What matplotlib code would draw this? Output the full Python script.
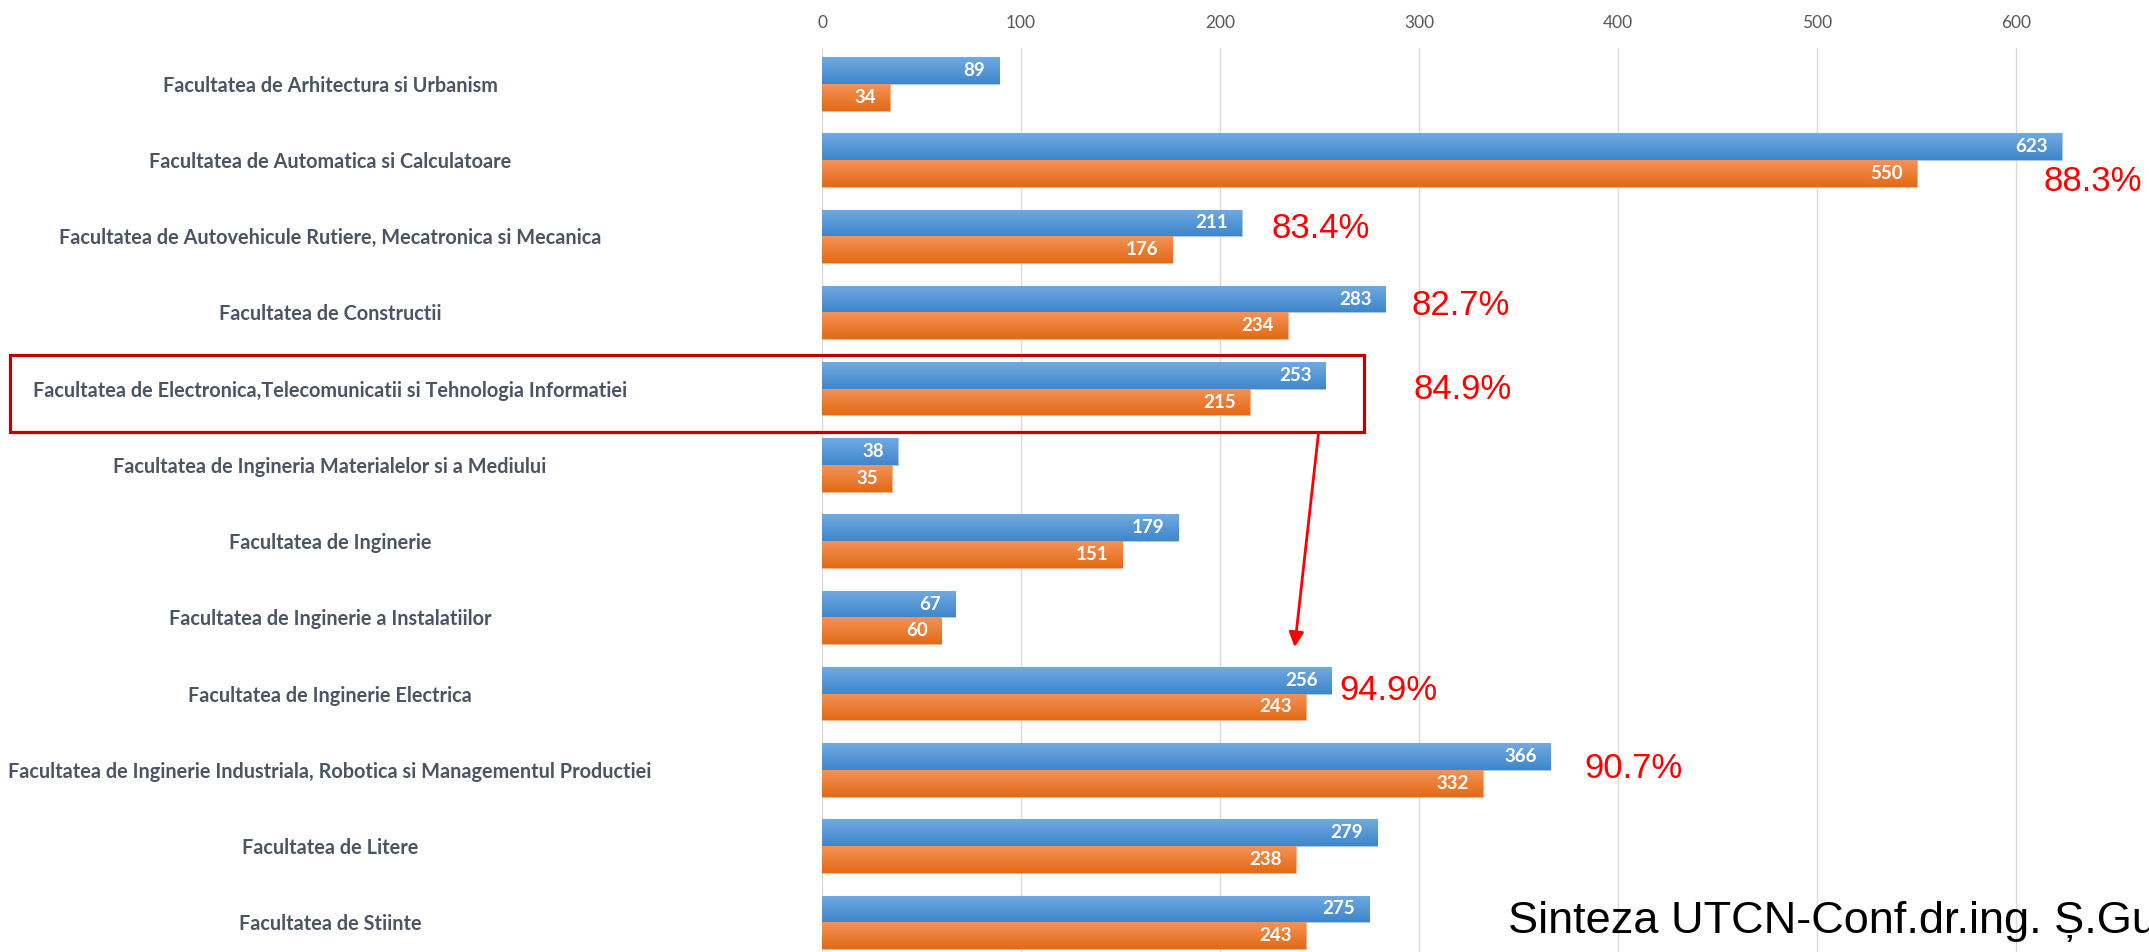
import numpy as np
import matplotlib
matplotlib.use('Agg')
import matplotlib.pyplot as plt
from matplotlib.colors import LinearSegmentedColormap
from matplotlib.patches import Rectangle

categories = [
    "Facultatea de Arhitectura si Urbanism",
    "Facultatea de Automatica si Calculatoare",
    "Facultatea de Autovehicule Rutiere, Mecatronica si Mecanica",
    "Facultatea de Constructii",
    "Facultatea de Electronica,Telecomunicatii si Tehnologia Informatiei",
    "Facultatea de Ingineria Materialelor si a Mediului",
    "Facultatea de Inginerie",
    "Facultatea de Inginerie a Instalatiilor",
    "Facultatea de Inginerie Electrica",
    "Facultatea de Inginerie Industriala, Robotica si Managementul Productiei",
    "Facultatea de Litere",
    "Facultatea de Stiinte",
]
series_blue = [89, 623, 211, 283, 253, 38, 179, 67, 256, 366, 279, 275]
series_orange = [34, 550, 176, 234, 215, 35, 151, 60, 243, 332, 238, 243]
x_ticks = [0, 100, 200, 300, 400, 500, 600]

pct_labels = ["88.3%", "83.4%", "82.7%", "84.9%", "94.9%", "90.7%"]
pct_cats = [1, 2, 3, 4, 8, 9]
# layout of the hand-placed percentage notes (data units)
pct_x = [614, 226, 296, 297, 260, 383]
pct_dy = [0.28, -0.10, -0.09, 0.01, -0.04, -0.02]

W, H = 2149, 952
fig = plt.figure(figsize=(W / 100, H / 100), dpi=100)
ax_left = 822 / W
ax_top = 48 / H
ax = fig.add_axes([ax_left, 0, 1 - ax_left, 1 - ax_top])

y = np.arange(len(categories))
h = 0.35
blue_bars = ax.barh(y - h / 2, series_blue, height=h, color="#5B9BD5",
                    edgecolor="#A9C8EA", linewidth=0.8, zorder=2)
orange_bars = ax.barh(y + h / 2, series_orange, height=h, color="#ED7D31",
                      edgecolor="#F5B58A", linewidth=0.8, zorder=2)

# gradients on bars
cm_blue = LinearSegmentedColormap.from_list("b", ["#70AAE2", "#3F86CB"])
cm_orange = LinearSegmentedColormap.from_list("o", ["#F49257", "#E36A16"])
grad = np.linspace(0, 1, 64).reshape(-1, 1)
for bars, cm in ((blue_bars, cm_blue), (orange_bars, cm_orange)):
    for p in bars.patches:
        x0, y0 = p.get_x(), p.get_y()
        w, hh = p.get_width(), p.get_height()
        im = ax.imshow(grad, cmap=cm, aspect="auto",
                       extent=(x0, x0 + w, y0 + hh, y0), origin="upper",
                       zorder=2.5, interpolation="bilinear")
        im.set_clip_path(p)
ax.set_xlim(0, (W - 822) / 1.99)
ax.set_ylim(11.39, -0.47)

# value labels
for bars, vals in ((blue_bars, series_blue), (orange_bars, series_orange)):
    for p, v in zip(bars.patches, vals):
        ax.annotate(str(v), xy=(p.get_width(), p.get_y() + p.get_height() / 2),
                    xytext=(-10, 0), textcoords="offset points",
                    ha="right", va="center", color="white",
                    fontsize=13.5, fontweight="bold", family="Lato", zorder=4)

# axes styling
for s in ax.spines.values():
    s.set_visible(False)
ax.set_xticks(x_ticks)
ax.xaxis.tick_top()
ax.tick_params(axis="x", length=0, pad=12, labelsize=12.5, labelcolor="#595959")
for t in ax.get_xticklabels():
    t.set_family("Lato")
ax.grid(axis="x", color="#D9D9D9", linewidth=1, zorder=0)
ax.set_axisbelow(True)

ax.set_yticks(y)
ax.set_yticklabels(categories, ha="center", family="Lato", fontweight="bold",
                   fontsize=14.3, color="#4A5464")
ax.tick_params(axis="y", length=0, pad=(822 - 330) * 0.72)

# percentage notes
for lab, c, px, dy in zip(pct_labels, pct_cats, pct_x, pct_dy):
    ax.text(px, c + dy, lab, color="#FF0000", fontsize=25, family="Liberation Sans",
            ha="left", va="center", clip_on=False, zorder=5)

# highlight box around Electronica row
fig.patches.append(Rectangle((10 / W, 1 - 432 / H), 1354 / W, 77 / H,
                             transform=fig.transFigure, fill=False,
                             edgecolor="#C00000", linewidth=2.3, zorder=6))

# arrow
ax.annotate("", xy=(237.5, 7.39), xytext=(249.5, 4.58),
            arrowprops=dict(arrowstyle="-|>", color="#FF0000", lw=2.0,
                            mutation_scale=22, shrinkA=0, shrinkB=0),
            annotation_clip=False, zorder=6)

# footer text (cut at the right edge, as in the reference)
fig.text(1508 / W, 1 - 921 / H, "Sinteza UTCN-Conf.dr.ing. Ș.Gu",
         fontsize=32.5, family="Liberation Sans", color="black",
         ha="left", va="center")

fig.savefig("out.png", dpi=100)
